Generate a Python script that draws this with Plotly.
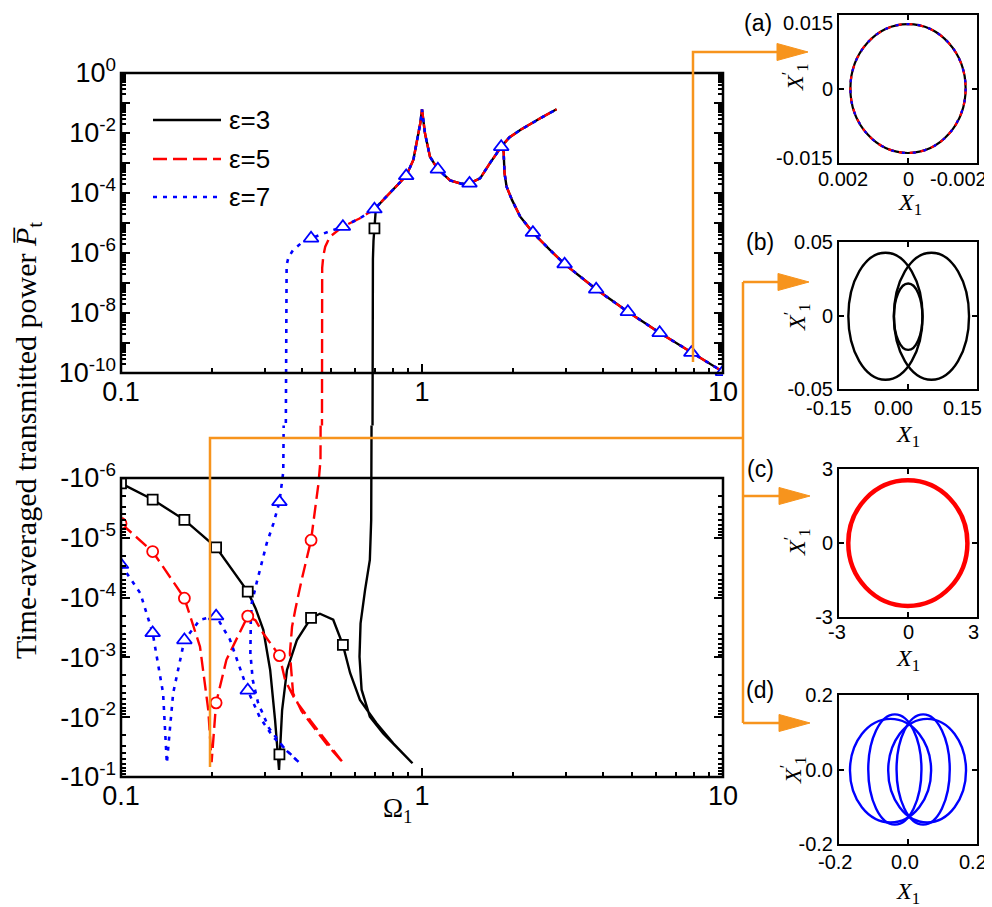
import plotly.graph_objects as go

# ======================= DATA =======================
# --- Top panel: P_t > 0, values stored as log10(P_t) ---
# branch shared by all three epsilon values
common_omega = [0.546, 0.62, 0.695, 0.75, 0.80, 0.845, 0.886, 0.936, 0.973, 0.988, 1.0,
                1.012, 1.023, 1.063, 1.129, 1.24, 1.35, 1.438, 1.56, 1.68, 1.833, 1.95,
                2.12, 2.47, 2.8]
common_logP = [-5.12, -4.85, -4.54, -4.19, -3.90, -3.65, -3.43, -2.90, -2.01, -1.65, -1.21,
               -1.62, -2.01, -2.79, -3.21, -3.58, -3.69, -3.68, -3.51, -3.01, -2.46, -2.15,
               -1.90, -1.51, -1.21]
# lower (high-frequency) branch after the fold
lower_omega = [1.845, 1.868, 1.872, 1.88, 1.91, 1.99, 2.12, 2.336, 2.65, 2.977, 3.79, 4.83,
               6.16, 7.85, 10.0]
lower_logP = [-2.43, -2.65, -2.90, -3.34, -3.79, -4.23, -4.79, -5.32, -5.88, -6.37, -7.21,
              -7.96, -8.66, -9.32, -9.96]
# low-frequency ends (coming up from P ~ 0)
eps3_top_omega = [0.684, 0.685, 0.687, 0.69, 0.695, 0.697, 0.703]
eps3_top_logP = [-14.0, -8.0, -6.2, -5.6, -5.18, -4.80, -4.49]
eps5_top_omega = [0.465, 0.465, 0.466, 0.470, 0.477, 0.494, 0.521]
eps5_top_logP = [-14.0, -8.0, -6.5, -6.1, -5.79, -5.46, -5.27]
eps7_top_omega = [0.352, 0.353, 0.355, 0.360, 0.373, 0.398, 0.428, 0.489]
eps7_top_logP = [-14.0, -8.0, -6.4, -6.15, -5.90, -5.66, -5.51, -5.29]
# markers of the top panel
top_tri_omega = [0.428, 0.546, 0.695, 0.886, 1.129, 1.438, 1.833, 2.336, 2.977, 3.79, 4.83,
                 6.16, 7.85, 10.0]
top_tri_logP = [-5.51, -5.12, -4.54, -3.43, -3.21, -3.68, -2.46, -5.32, -6.37, -7.21, -7.96,
                -8.66, -9.32, -9.96]
top_sq_omega = [0.695]
top_sq_logP = [-5.18]

# --- Bottom panel: P_t < 0, values stored as log10(|P_t|) ---
eps3_bot_omega = [0.1, 0.1274, 0.1624, 0.207, 0.2637, 0.28, 0.297, 0.313, 0.325, 0.331, 0.335,
                  0.338, 0.343, 0.356, 0.384, 0.428, 0.458, 0.507, 0.546, 0.577, 0.622, 0.706,
                  0.804, 0.93, 0.845, 0.743, 0.671, 0.63, 0.62, 0.625, 0.647, 0.671, 0.678,
                  0.681, 0.682]
eps3_bot_logP = [-5.91, -5.64, -5.30, -4.84, -4.10, -3.82, -3.46, -2.79, -1.95, -1.45, -1.12,
                 -1.50, -2.12, -2.79, -3.29, -3.66, -3.73, -3.63, -3.21, -2.74, -2.29, -1.90,
                 -1.56, -1.23, -1.45, -1.73, -2.01, -2.46, -3.01, -3.57, -4.13, -4.63, -5.30,
                 -6.0, -9.0]
eps5_bot_omega = [0.1, 0.1274, 0.1624, 0.183, 0.195, 0.2, 0.207, 0.224, 0.2637, 0.28, 0.297,
                  0.336, 0.351, 0.379, 0.425, 0.482, 0.548, 0.482, 0.431, 0.398, 0.373, 0.364,
                  0.37, 0.379, 0.398, 0.428, 0.453, 0.46, 0.462]
eps5_bot_logP = [-5.24, -4.77, -3.99, -3.18, -2.12, -1.25, -2.24, -2.96, -3.69, -3.62, -3.40,
                 -3.03, -2.62, -2.29, -1.95, -1.60, -1.23, -1.55, -1.88, -2.10, -2.40, -3.07,
                 -3.51, -3.79, -4.29, -4.96, -5.91, -6.3, -9.0]
eps7_bot_omega = [0.1, 0.116, 0.1274, 0.138, 0.142, 0.149, 0.1624, 0.183, 0.207, 0.23, 0.2637,
                  0.289, 0.32, 0.36, 0.393, 0.35, 0.31, 0.285, 0.274, 0.269, 0.270, 0.272,
                  0.282, 0.293, 0.305, 0.321, 0.336, 0.346, 0.35]
eps7_bot_logP = [-4.55, -4.07, -3.41, -2.40, -1.23, -2.40, -3.29, -3.63, -3.69, -3.30, -2.45,
                 -2.00, -1.67, -1.42, -1.23, -1.47, -1.82, -2.25, -2.62, -3.07, -3.63, -3.91,
                 -4.24, -4.57, -4.91, -5.24, -5.60, -6.1, -9.0]
bot_sq_omega = [0.1, 0.1274, 0.1624, 0.207, 0.2637, 0.336, 0.428, 0.546]
bot_sq_logP = [-5.91, -5.64, -5.30, -4.84, -4.10, -1.38, -3.66, -3.21]
bot_ci_omega = [0.1, 0.1274, 0.1624, 0.207, 0.2637, 0.336, 0.428]
bot_ci_logP = [-5.24, -4.77, -3.99, -2.24, -3.69, -3.03, -4.96]
bot_tri_omega = [0.1, 0.1274, 0.1624, 0.207, 0.2637, 0.336]
bot_tri_logP = [-4.55, -3.41, -3.29, -3.69, -2.45, -5.60]

# --- Phase portraits (X1, X1'): closed orbits as (centre x, centre y, half-width, half-height) ---
a_cx, a_cy, a_rx, a_ry = [0.0], [0.0001], [0.00167], [0.01307]
b_cx = [-0.049, 0.051, 0.0004]
b_cy = [-0.0005, -0.0005, -0.0008]
b_rx = [0.0807, 0.0817, 0.031]
b_ry = [0.0432, 0.0432, 0.0226]
c_cx, c_cy, c_rx, c_ry = [-0.007], [-0.005], [2.59], [2.545]
d_cx = [-0.0506, 0.0554, -0.0381, 0.0439]
d_cy = [-0.003, -0.003, 0.0, 0.0]
d_rx = [0.1176, 0.1128, 0.0771, 0.0771]
d_ry = [0.139, 0.139, 0.148, 0.148]

legend_labels = ["ε=3", "ε=5", "ε=7"]

# ======================= LAYOUT HELPERS =======================
# the page body adds an 8 px margin; the figure fills the rest of the 992x907 window
OFF = 8
FW, FH = 992 - OFF, 907 - OFF
def fx(p): return (p - OFF) / FW
def fy(p): return 1 - (p - OFF) / FH

SANS = "Liberation Sans, Arial, sans-serif"
SERIF = "Liberation Serif, Times New Roman, serif"
BLACK, RED, BLUE, ORANGE = "#000000", "#FF0000", "#0000FF", "#F7941D"
LINE = {
    "k": dict(color=BLACK, width=2.4),
    "r": dict(color=RED, width=2.4, dash="14px,6px"),
    "b": dict(color=BLUE, width=2.6, dash="4px,6px"),
}

def pow10(vals):
    return [None if v is None else 10 ** v for v in vals]

def top_path(lo, lp):
    cut = lo[-1]
    om = list(lo) + [o for o in common_omega if o > cut] + [None] + lower_omega
    lv = list(lp) + [v for o, v in zip(common_omega, common_logP) if o > cut] + [None] + lower_logP
    return om, pow10(lv)

fig = go.Figure()

# ---- top panel curves ----
for (lo, lp, key) in [(eps3_top_omega, eps3_top_logP, "k"),
                      (eps5_top_omega, eps5_top_logP, "r"),
                      (eps7_top_omega, eps7_top_logP, "b")]:
    om, pv = top_path(lo, lp)
    fig.add_trace(go.Scatter(x=om, y=pv, mode="lines", line=LINE[key],
                             connectgaps=False, xaxis="x", yaxis="y", hoverinfo="skip"))

# ---- bottom panel curves (plotted as |P|) ----
for (om, lp, key) in [(eps3_bot_omega, eps3_bot_logP, "k"),
                      (eps5_bot_omega, eps5_bot_logP, "r"),
                      (eps7_bot_omega, eps7_bot_logP, "b")]:
    fig.add_trace(go.Scatter(x=om, y=pow10(lp), mode="lines", line=LINE[key],
                             xaxis="x2", yaxis="y2", hoverinfo="skip"))

def mk(symbol, color, size):
    return dict(symbol=symbol, size=size, color="white", line=dict(color=color, width=1.8))

fig.add_trace(go.Scatter(x=top_sq_omega, y=pow10(top_sq_logP), mode="markers",
                         marker=mk("square", BLACK, 10), xaxis="x", yaxis="y"))
fig.add_trace(go.Scatter(x=top_tri_omega, y=pow10(top_tri_logP), mode="markers",
                         marker=mk("triangle-up", BLUE, 13), xaxis="x", yaxis="y"))
fig.add_trace(go.Scatter(x=bot_sq_omega, y=pow10(bot_sq_logP), mode="markers",
                         marker=mk("square", BLACK, 10), xaxis="x2", yaxis="y2"))
fig.add_trace(go.Scatter(x=bot_ci_omega, y=pow10(bot_ci_logP), mode="markers",
                         marker=mk("circle", RED, 11), xaxis="x2", yaxis="y2"))
fig.add_trace(go.Scatter(x=bot_tri_omega, y=pow10(bot_tri_logP), mode="markers",
                         marker=mk("triangle-up", BLUE, 13), xaxis="x2", yaxis="y2"))

# ---- inset centres (invisible anchors so every inset subplot exists) ----
for n, cx, cy in [(5, a_cx, a_cy), (6, b_cx, b_cy), (7, c_cx, c_cy), (8, d_cx, d_cy)]:
    fig.add_trace(go.Scatter(x=cx, y=cy, mode="markers", marker=dict(opacity=0),
                             xaxis="x%d" % n, yaxis="y%d" % n, hoverinfo="skip"))

# ======================= AXES =======================
tickfont = dict(family=SANS, size=27, color="black")
xminor = [m * 10 ** k for k in (-1, 0) for m in range(2, 10)]
common_x = dict(type="log", range=[-1, 1], domain=[fx(121), fx(723)],
                tickvals=[0.1, 1, 10], ticktext=["0.1", "1", "10"],
                ticks="inside", ticklen=9, tickwidth=2, tickcolor="black",
                minor=dict(ticks="inside", ticklen=5, tickwidth=1.5, tickcolor="black", tickvals=xminor),
                showline=False, showgrid=False, zeroline=False, tickfont=tickfont, automargin=False,
                ticklabeloverflow="allow")
def ax(**kw):
    d = dict(common_x)
    d.update(kw)
    return d

ytop_vals = [10.0 ** k for k in range(-10, 1)]
ytop_text = [("10<sup>%d</sup>" % k) if k % 2 == 0 else "" for k in range(-10, 1)]
ybot_vals = [10.0 ** k for k in range(-6, 0)]
ybot_text = ["-10<sup>%d</sup>" % k for k in range(-6, 0)]
ycommon = dict(type="log", ticks="inside", ticklen=9, tickwidth=2, tickcolor="black",
               mirror="ticks", showline=False, showgrid=False, zeroline=False,
               tickfont=tickfont, ticklabelstandoff=4, automargin=False, ticklabeloverflow="allow")

inset_x_dom = [fx(839), fx(977)]
def inset_axes(n, ytop, ybot, xr, yr, xt, yt, ytext):
    xa = dict(domain=inset_x_dom, range=xr, anchor="y%d" % n, tickvals=xt, showticklabels=False,
              ticks="inside", ticklen=5, tickwidth=1.5, tickcolor="black",
              showline=True, linewidth=2, linecolor="black", mirror="ticks",
              showgrid=False, zeroline=False, automargin=False)
    ya = dict(domain=[fy(ybot), fy(ytop)], range=yr, anchor="x%d" % n, tickvals=yt, ticktext=ytext,
              ticks="inside", ticklen=5, tickwidth=1.5, tickcolor="black",
              showline=True, linewidth=2, linecolor="black", mirror="ticks",
              showgrid=False, zeroline=False, automargin=False, ticklabeloverflow="allow",
              tickfont=dict(family=SANS, size=20, color="black"))
    return xa, ya

# (the outer labels of inset (a) are placed as notes below, as in the picture)
xa5, ya5 = inset_axes(5, 15, 163, [0.002, -0.002], [-0.015, 0.015], [0.002, 0, -0.002],
                      [-0.015, 0, 0.015], ["", "0", ""])
xa6, ya6 = inset_axes(6, 242, 389, [-0.15, 0.15], [-0.05, 0.05], [-0.15, 0, 0.15],
                      [-0.05, 0, 0.05], ["-0.05", "0", "0.05"])
xa7, ya7 = inset_axes(7, 469, 617, [-3, 3], [-3, 3], [-3, 0, 3], [-3, 0, 3], ["-3", "0", "3"])
xa8, ya8 = inset_axes(8, 695, 844, [-0.2, 0.2], [-0.2, 0.2], [-0.2, 0, 0.2],
                      [-0.2, 0, 0.2], ["-0.2", "0.0", "0.2"])

# ======================= SHAPES / ANNOTATIONS =======================
shapes = []

# phase-portrait orbits, drawn in data coordinates of each inset
def orbits(n, cxs, cys, rxs, rys, line):
    for cx, cy, rx, ry in zip(cxs, cys, rxs, rys):
        shapes.append(dict(type="circle", xref="x%d" % n, yref="y%d" % n,
                           x0=cx - rx, x1=cx + rx, y0=cy - ry, y1=cy + ry, line=line, layer="above"))

orbits(5, a_cx, a_cy, a_rx, a_ry, dict(color=BLACK, width=2.2))
orbits(5, a_cx, a_cy, a_rx, a_ry, dict(color=RED, width=2.2, dash="6px,5px"))
orbits(5, a_cx, a_cy, a_rx, a_ry, dict(color=BLUE, width=2.2, dash="3px,8px"))
orbits(6, b_cx, b_cy, b_rx, b_ry, dict(color=BLACK, width=2.4))
orbits(7, c_cx, c_cy, c_rx, c_ry, dict(color=RED, width=4.5))
orbits(8, d_cx, d_cy, d_rx, d_ry, dict(color=BLUE, width=2.4))

for (x0, y0, x1, y1) in [(121, 73, 723, 373), (121, 478, 723, 777)]:
    shapes.append(dict(type="rect", xref="paper", yref="paper", x0=fx(x0), x1=fx(x1),
                       y0=fy(y1), y1=fy(y0), line=dict(color="black", width=2.5)))

def opath(pts):
    return "M " + " L ".join("%f,%f" % (fx(a), fy(b)) for a, b in pts)

ol = dict(color=ORANGE, width=2.5)
shapes.append(dict(type="path", xref="paper", yref="paper", path=opath([(693, 362), (693, 52), (780, 52)]), line=ol))
shapes.append(dict(type="path", xref="paper", yref="paper", path=opath([(210, 767), (210, 438), (743, 438)]), line=ol))
shapes.append(dict(type="path", xref="paper", yref="paper", path=opath([(743, 282), (743, 723)]), line=ol))
for yy in [282, 496, 723]:
    shapes.append(dict(type="path", xref="paper", yref="paper", path=opath([(743, yy), (782, yy)]), line=ol))
for (tip, yy) in [(808, 52), (809, 282), (810, 496), (810, 723)]:
    shapes.append(dict(type="path", xref="paper", yref="paper",
                       path=opath([(tip - 31, yy - 8.5), (tip, yy), (tip - 31, yy + 8.5)]) + " Z",
                       fillcolor=ORANGE, line=dict(color=ORANGE, width=1)))

# legend samples
leg_y = [120, 159, 197]
for key, yy in zip(["k", "r", "b"], leg_y):
    sty = LINE[key]
    d = sty.get("dash", "solid")
    shapes.append(dict(type="line", xref="paper", yref="paper", x0=fx(153), x1=fx(221),
                       y0=fy(yy), y1=fy(yy), line=dict(color=sty["color"], width=sty["width"], dash=d)))

annotations = []
def note(text, x, y, size, family=SANS, **kw):
    d = dict(text=text, x=fx(x), y=fy(y), xref="paper", yref="paper", showarrow=False,
             xanchor="center", yanchor="middle", font=dict(family=family, size=size, color="black"))
    d.update(kw)
    annotations.append(d)

for lab, yy in zip(legend_labels, leg_y):
    note(lab, 227, yy, 26, xanchor="left")

note("Time-averaged transmitted power <i>P\u0305</i><sub>t</sub>", 28, 441, 30, SERIF, textangle=-90)
note("Ω<sub>1</sub>", 398, 810, 27, SERIF)

for lab, (xx, yy) in zip(["(a)", "(b)", "(c)", "(d)"], [(758, 23), (760, 242), (760, 469), (760, 690)]):
    note(lab, xx, yy, 23)

note("0.015", 835, 23, 20, xanchor="right")
note("-0.015", 835, 158, 20, xanchor="right")

inset_xlabels = [
    (["0.002", "0", "-0.002"], [843, 908, 958], 179),
    (["-0.15", "0.00", "0.15"], [829, 893, 962], 408),
    (["-3", "0", "3"], [837, 908, 973], 632),
    (["-0.2", "0.0", "0.2"], [835, 905, 973], 862),
]
for labs, xs, yy in inset_xlabels:
    for lab, xx in zip(labs, xs):
        note(lab, xx, yy, 20)

for (xt, yt, xp, yp) in [(910, 204, 795, 77), (908, 436, 797, 317), (908, 660, 797, 542), (908, 893, 793, 770)]:
    note("<i>X</i><sub>1</sub>", xt, yt, 24, SERIF)
    note("<i>X</i><sup>′</sup><sub>1</sub>", xp, yp, 24, SERIF, textangle=-90)

fig.update_layout(
    width=FW, height=FH, autosize=False, margin=dict(l=0, r=0, t=0, b=0, pad=0, autoexpand=False),
    paper_bgcolor="white", plot_bgcolor="white", showlegend=False,
    xaxis=ax(anchor="free", position=fy(373), side="bottom"),
    xaxis3=ax(overlaying="x", anchor="free", position=fy(73), side="top", showticklabels=False),
    yaxis=dict(ycommon, domain=[fy(425.5), fy(73)], range=[-11.75, 0], anchor="x",
               tickvals=ytop_vals, ticktext=ytop_text,
               minor=dict(ticks="inside", ticklen=5, tickwidth=1.5, tickcolor="black",
                          tickvals=[m * 10 ** k for k in range(-10, 0) for m in range(2, 10)])),
    xaxis2=ax(anchor="y2", side="bottom"),
    xaxis4=ax(overlaying="x2", anchor="free", position=fy(478), side="top", showticklabels=False),
    yaxis2=dict(ycommon, domain=[fy(777), fy(425.5)], range=[-1, -6.878], anchor="x2",
                tickvals=ybot_vals, ticktext=ybot_text,
                minor=dict(ticks="inside", ticklen=5, tickwidth=1.5, tickcolor="black",
                           tickvals=[m * 10 ** k for k in range(-6, -1) for m in range(2, 10)])),
    xaxis5=xa5, yaxis5=ya5, xaxis6=xa6, yaxis6=ya6,
    xaxis7=xa7, yaxis7=ya7, xaxis8=xa8, yaxis8=ya8,
    shapes=shapes, annotations=annotations,
)

fig.write_html("out.html")
